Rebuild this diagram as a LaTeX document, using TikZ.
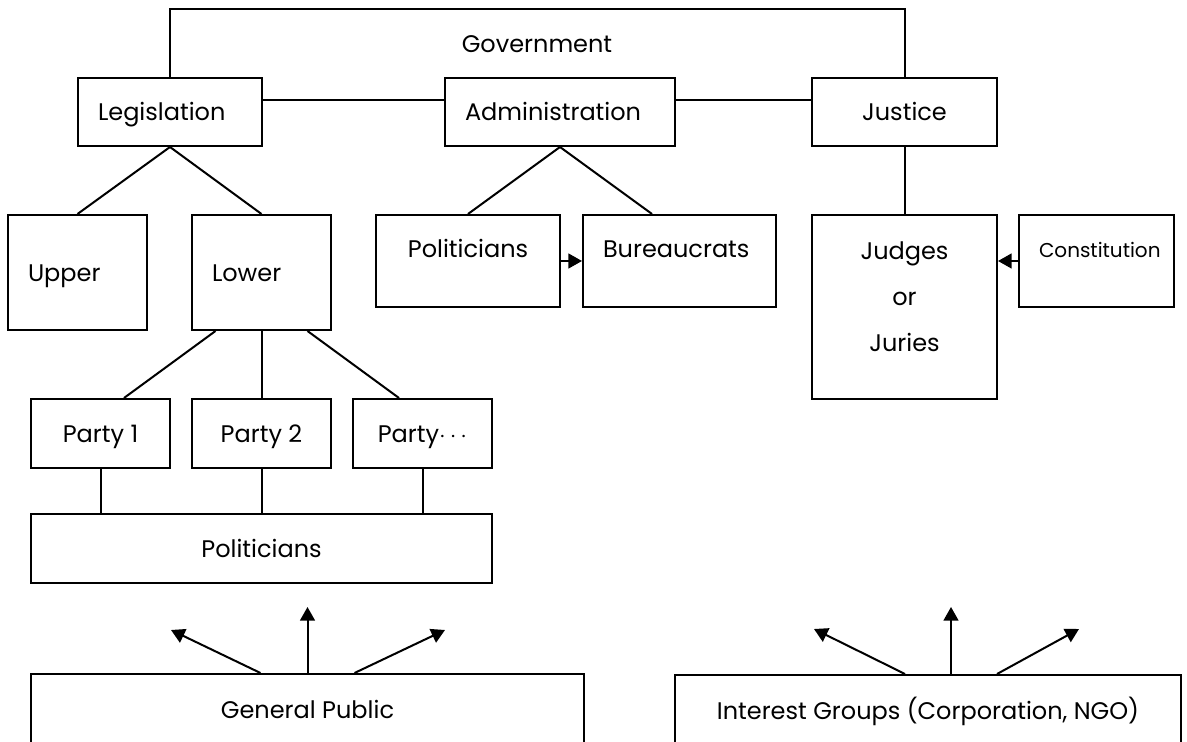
\documentclass[tikz,border=0pt]{standalone}
\usepackage{fontspec}
\setmainfont{Poppins}
\usetikzlibrary{arrows.meta}

\begin{document}
\begin{tikzpicture}
[x=0.5pt,y=-0.5pt,font=\fontsize{12}{14}\selectfont,
  lineDecorate/.style={-,line width=1pt},%
  arrowDecorate/.style={-{Triangle[length=6.8pt,width=7.4pt]},line width=1pt},
  nodeDecorate/.style={shape=rectangle,draw,line width=1pt,inner sep=0pt,
    text height=8.6pt,text depth=0pt},
  leftDecorate/.style={nodeDecorate,align=left,inner xsep=10pt},
  highDecorate/.style={text height=9pt,text depth=12pt}]
\useasboundingbox (0,0) rectangle (1187,742);
\clip (0,0) rectangle (1187,742);
%% top level
\node (gov) at (537,44) {Government};
\node (leg) at (170,112) [leftDecorate,text width=72pt,minimum height=34pt] {Legislation};
\node (adm) at (560,112) [leftDecorate,text width=95pt,minimum height=34pt] {Administration};
%% second level
\node (upper) at (77.5,272.5) [leftDecorate,text width=49.5pt,minimum height=57.5pt] {Upper};
\node (lower) at (261.5,272.5) [leftDecorate,text width=49.5pt,minimum height=57.5pt] {Lower};
\node (pol) at (468,261) [nodeDecorate,highDecorate,minimum width=92pt,minimum height=46pt] {Politicians};
\node (bur) at (679.5,261) [leftDecorate,highDecorate,text width=76.5pt,minimum height=46pt] {Bureaucrats};
\node (jud) at (904.5,307) [nodeDecorate,align=center,font=\fontsize{12}{23}\selectfont,
  text height=45pt,text depth=0pt,minimum width=92.5pt,minimum height=92pt] {Judges\\or\\Juries};
\node (con) at (1096.5,261) [leftDecorate,highDecorate,font=\fontsize{10}{12}\selectfont,
  text width=57.5pt,minimum height=46pt] {Constitution};
%% plain boxes
\foreach \nodename/\x/\y/\w/\h/\txt in {
  jus/904.5/112/92.5/34/{Justice},
  p1/100.5/433.5/69.5/34.5/{Party 1},
  p2/261.5/433.5/69.5/34.5/{Party 2},
  p3/422.5/433.5/69.5/34.5/{Party$\cdots$},
  pols/261.5/548.5/230.5/34.5/{Politicians},
  gp/307.5/710/276.5/36/{General Public},
  int/928/710.5/253/35.5/{Interest Groups (Corporation, NGO)}}
{
  \node (\nodename) at (\x,\y) [nodeDecorate,minimum width=\w pt,minimum height=\h pt] {\txt};
}
%% lines
\coordinate (govline) at (537,9);
\draw[lineDecorate] (leg.north) |- (govline) -| (jus.north);
\draw[lineDecorate] ([yshift=6pt]leg.east) -- ([yshift=6pt]adm.west);
\draw[lineDecorate] ([yshift=6pt]adm.east) -- ([yshift=6pt]jus.west);
\path
\foreach \startnode/\endnode in {
  leg.south/upper.north, leg.south/lower.north, adm.south/pol.north,
  jus.south/jud.north, lower.south/p2.north}
{
  (\startnode) edge[lineDecorate] (\endnode)
};
\draw[lineDecorate] (adm.south) -- ([xshift=-13.75pt]bur.north);
\draw[lineDecorate] ([xshift=-23pt]lower.south) -- ([xshift=11.75pt]p1.north);
\draw[lineDecorate] ([xshift=23pt]lower.south) -- ([xshift=-11.75pt]p3.north);
\foreach \party in {p1,p2,p3}
  \draw[lineDecorate] (\party.south) -- (\party.south |- pols.north);
%% arrows
\draw[arrowDecorate] (pol.east) -- (bur.west);
\draw[arrowDecorate] (con.west) -- (con.west -| jud.east);
\foreach \tipname/\x/\y/\shift/\base in {
  gpl/171/630/-23.5/gp, gpm/307.5/607/0/gp, gpr/445/630/23.5/gp,
  intl/814/629/-11.5/int, intm/951/607/11.5/int, intr/1079/629/34.5/int}
{
  \coordinate (\tipname) at (\x,\y);
  \draw[arrowDecorate] ([xshift=\shift pt]\base.north) -- (\tipname);
}
\end{tikzpicture}
\end{document}
